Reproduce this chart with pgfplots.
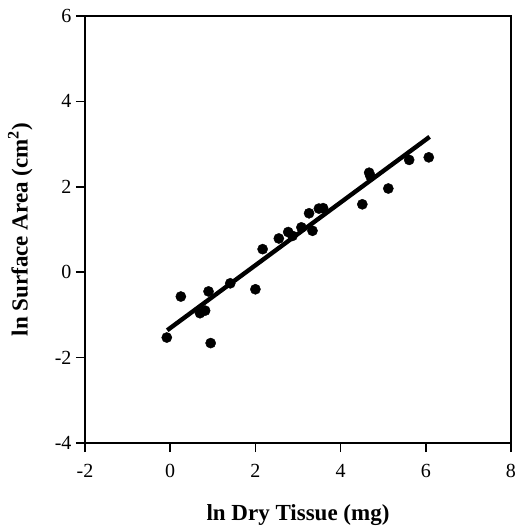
\documentclass[border=0pt]{standalone}
\usepackage{pgfplots}
\pgfplotsset{compat=1.18}
\usepackage{fontspec}
\setmainfont{Liberation Serif}
\usetikzlibrary{calc}
\begin{document}
\begin{tikzpicture}
\begin{axis}[
  name=ax,
  scale only axis,
  width=426pt, height=427pt,
  xmin=-2, xmax=8, ymin=-4, ymax=6,
  xtick={-2,0,2,4,6,8}, ytick={-4,-2,0,2,4,6},
  tick align=outside,
  major tick length=9pt,
  xtick pos=bottom, ytick pos=left,
  axis line style={line width=1.6pt},
  every tick/.style={line width=1.6pt, black},
  /pgf/number format/assume math mode=true,
  tick label style={font=\fontsize{20}{24}\selectfont},
  xticklabel style={yshift=-9pt},
  yticklabel style={xshift=-1pt},
  xlabel={\textbf{ln Dry Tissue (mg)}},
  ylabel={\textbf{ln Surface Area (cm\textsuperscript{2})}},
  every axis x label/.style={at={(axis description cs:0.5,-0.169)}, anchor=center, font=\fontsize{23}{27}\selectfont},
  every axis y label/.style={at={(axis description cs:-0.152,0.5)}, anchor=center, rotate=90, font=\fontsize{23}{27}\selectfont},
  clip=false,
]
\addplot[only marks, mark=*, mark size=5.1pt, black] coordinates {
(-0.08,-1.53) (0.25,-0.57) (0.90,-0.45) (0.70,-0.96) (0.82,-0.90)
(0.95,-1.66) (1.41,-0.26) (2.00,-0.40) (2.17,0.54) (2.55,0.79)
(2.77,0.94) (2.87,0.85) (3.08,1.05) (3.34,0.97) (3.26,1.38)
(3.49,1.49) (3.59,1.50) (4.51,1.59) (4.67,2.33) (4.70,2.25)
(5.12,1.96) (5.61,2.63) (6.07,2.69)
};
\addplot[black, line width=4.4pt] coordinates {(-0.07,-1.36) (6.09,3.17)};
\end{axis}
\pgfresetboundingbox
\path[use as bounding box] ($(ax.south west)+(-85pt,-86pt)$) rectangle ($(ax.north east)+(16pt,16pt)$);
\end{tikzpicture}
\end{document}
